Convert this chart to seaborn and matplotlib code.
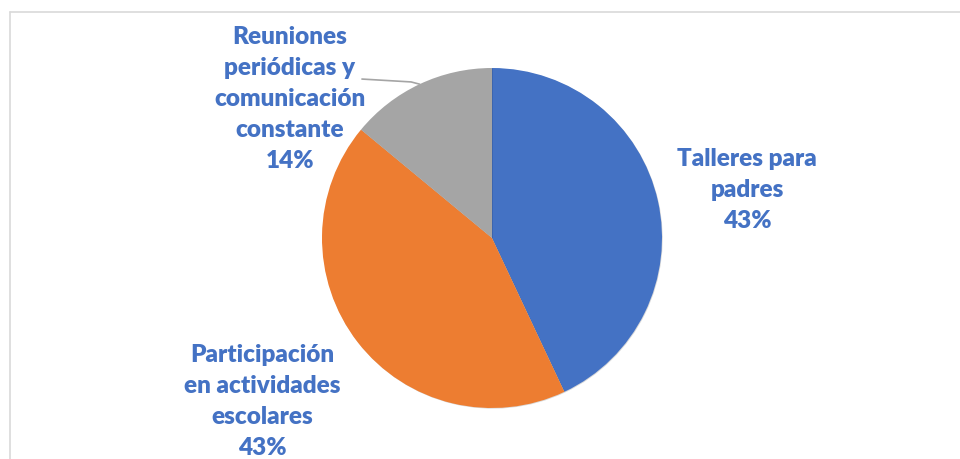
import matplotlib
matplotlib.use("Agg")
import matplotlib.pyplot as plt
import matplotlib.patheffects as pe
from matplotlib.lines import Line2D
import numpy as np
import seaborn as sns

# data
categories = ["Talleres para\npadres", "Participación\nen actividades\nescolares",
              "Reuniones\nperiódicas y\ncomunicación\nconstante"]
shares = [43, 43, 14]
colors = ["#4472C4", "#ED7D31", "#A5A5A5"]

sns.set_theme(style="white")
plt.rcParams['font.family'] = ['Lato', 'DejaVu Sans']

W, H = 960, 459
fig = plt.figure(figsize=(9.6, 4.59), dpi=100)

# chart frame (only left and top edges visible in the crop)
fig.add_artist(Line2D([10/W, 10/W], [0, 1 - 12/H], color="#D9D9D9", lw=1.2))
fig.add_artist(Line2D([10/W, 1], [1 - 12/H, 1 - 12/H], color="#D9D9D9", lw=1.2))

cx, cy, r = 492, 238, 170
ax = fig.add_axes([(cx - r)/W, (H - cy - r)/H, 2*r/W, 2*r/H])
wedges, _ = ax.pie(shares, colors=sns.color_palette(colors), startangle=90,
                   counterclock=False, radius=1,
                   wedgeprops=dict(linewidth=0))
for w in wedges:
    w.set_path_effects([pe.SimplePatchShadow(offset=(0.5, -0.5), alpha=0.15,
                                             shadow_rgbFace="black"), pe.Normal()])
ax.set_xlim(-1, 1)
ax.set_ylim(-1, 1)
ax.set_aspect("equal")
ax.axis("off")

# labels
label_pos = [(1.50, 0.28), (-1.35, -0.96), (-1.19, 0.82)]
for lab, val, (tx, ty) in zip(categories, shares, label_pos):
    ax.text(tx, ty, f"{lab}\n{val}%", ha="center", va="center", color="#4472C4",
            fontsize=17.5, fontweight="heavy", linespacing=1.5, clip_on=False)

# leader line for the small slice
w = wedges[2]
mid = np.deg2rad((w.theta1 + w.theta2) / 2)
ex, ey = np.cos(mid), np.sin(mid)
ax.plot([-0.765, ex - 0.05, ex], [0.935, 0.918, ey], color="#A5A5A5", lw=1.2,
        clip_on=False)

fig.savefig("out.png", dpi=100)
